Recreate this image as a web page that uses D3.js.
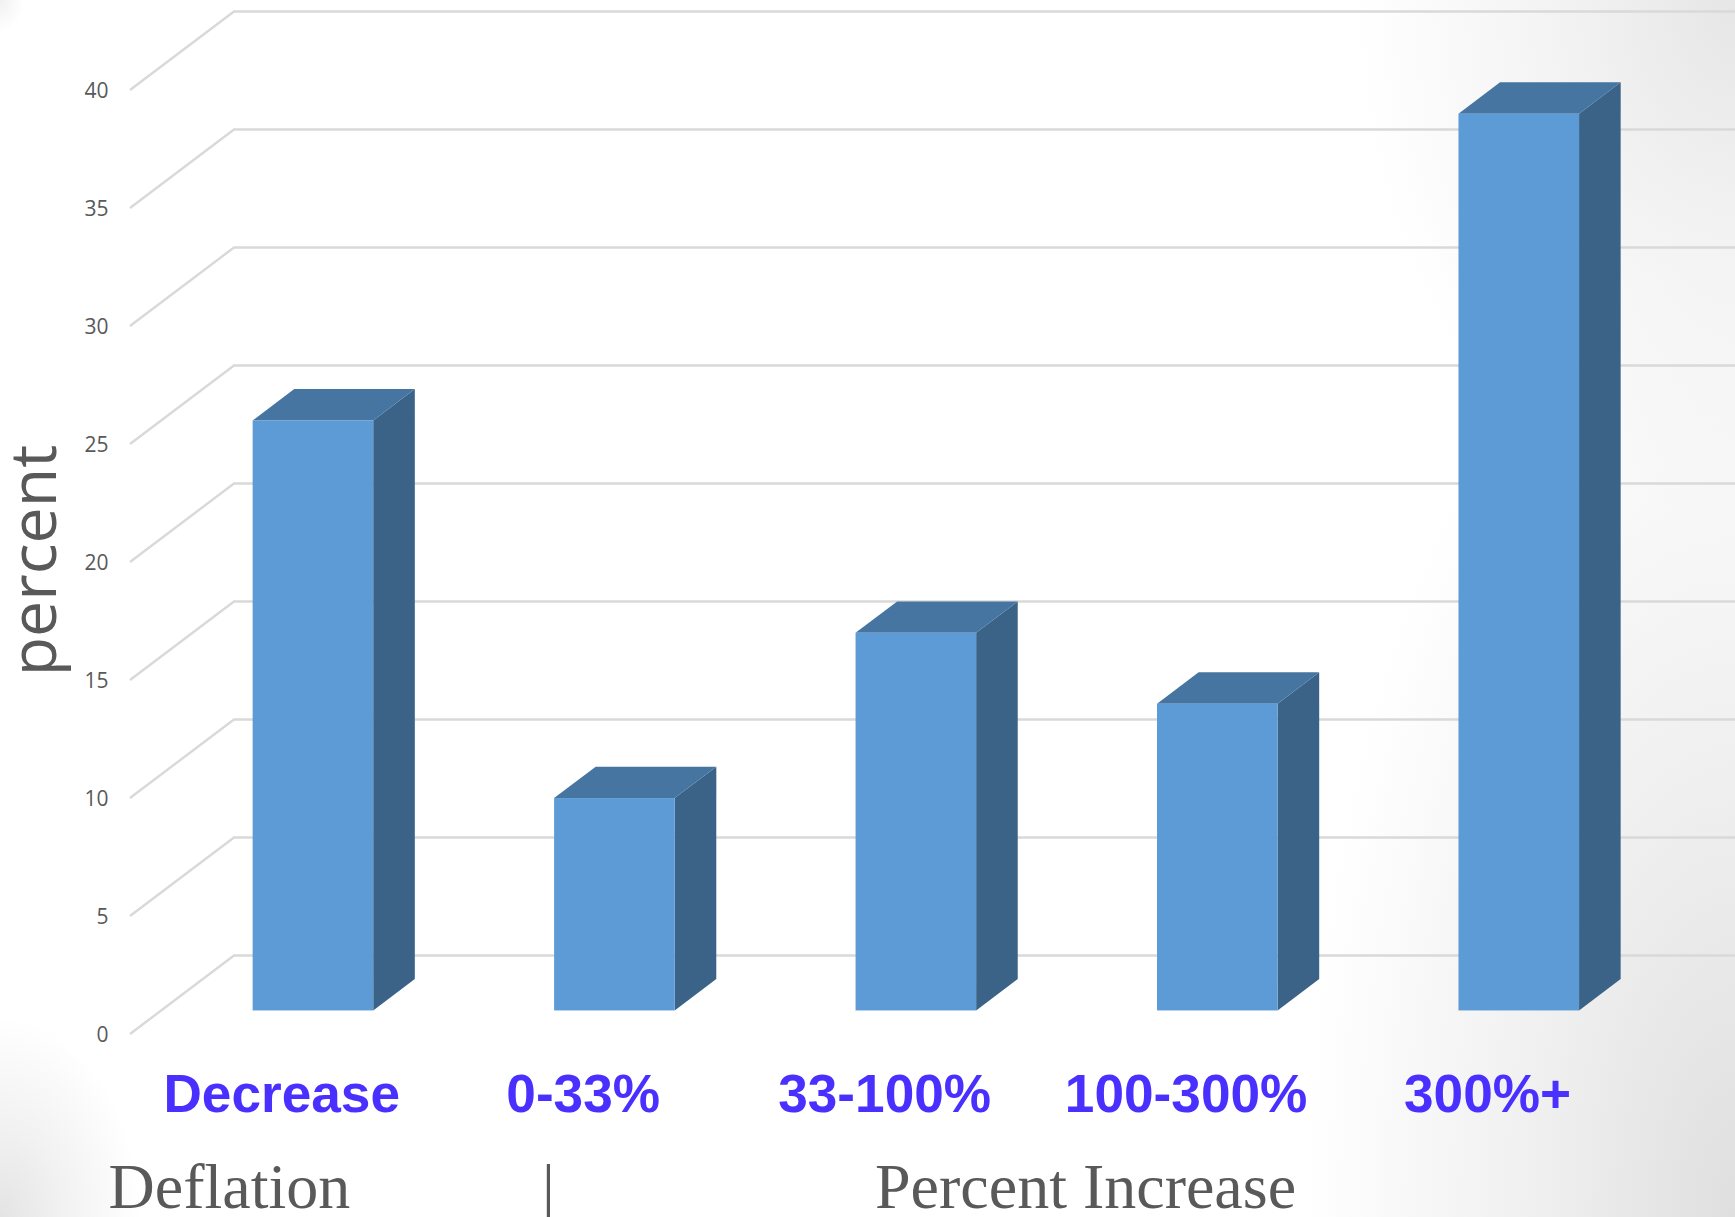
<!DOCTYPE html>
<html>
<head>
<meta charset="utf-8">
<script src="https://cdn.jsdelivr.net/npm/d3@7"></script>
<style>
  html, body { margin: 0; padding: 0; background: #fff; overflow: hidden; }
  svg { display: block; }
</style>
</head>
<body>
<svg id="chart" width="1735" height="1217"></svg>
<script>
const categories = ["Decrease", "0-33%", "33-100%", "100-300%", "300%+"];
const percentValues = [25, 9, 16, 13, 38];
const yTicks = [0, 5, 10, 15, 20, 25, 30, 35, 40];

const W = 1735, H = 1217;

// Oblique projection: the chart floor recedes up and to the right.
const floorDepth = { dx: 104, dy: -78.5 };
const barInset = 0.3, barDepth = 0.4;

const svg = d3.select("#chart");
const defs = svg.append("defs");

// Slide background: white with soft grey shading in the corners.
svg.append("rect").attr("width", W).attr("height", H).attr("fill", "#ffffff");
const vignettes = [
  { id: "vigTR", cx: 1735, cy: 0,    rx: 380, ry: 520, color: "#e6e6e6" },
  { id: "vigBR", cx: 1735, cy: 1217, rx: 430, ry: 960, color: "#dfdfdf" },
  { id: "vigBL", cx: 0,    cy: 1217, rx: 140, ry: 200, color: "#e4e4e4" },
  { id: "vigTL", cx: 0,    cy: 0,    rx: 24,  ry: 32,  color: "#f0f0f0" }
];
vignettes.forEach(v => {
  const g = defs.append("radialGradient").attr("id", v.id);
  g.append("stop").attr("offset", 0).attr("stop-color", v.color).attr("stop-opacity", 1);
  g.append("stop").attr("offset", 0.45).attr("stop-color", v.color).attr("stop-opacity", 0.5);
  g.append("stop").attr("offset", 1).attr("stop-color", v.color).attr("stop-opacity", 0);
  svg.append("rect")
    .attr("x", v.cx - v.rx).attr("y", v.cy - v.ry)
    .attr("width", 2 * v.rx).attr("height", 2 * v.ry)
    .attr("fill", `url(#${v.id})`);
});

const y = d3.scaleLinear().domain([0, 40]).range([1034, 90]);
const x = d3.scaleBand().domain(categories)
  .range([162.2, 1669.5]).paddingInner(0.6).paddingOuter(0.3);

const frontX = 130;

// Gridlines: one diagonal on the side wall and one run along the back wall per tick.
const grid = svg.append("g").attr("fill", "none").attr("stroke", "#d9d9d9").attr("stroke-width", 2.4);
grid.selectAll("path").data(yTicks).join("path")
  .attr("d", d => {
    const p = d3.path();
    p.moveTo(frontX, y(d));
    p.lineTo(frontX + floorDepth.dx, y(d) + floorDepth.dy);
    p.lineTo(W, y(d) + floorDepth.dy);
    return p.toString();
  });

// Value axis labels.
const yAxis = d3.axisLeft(y).tickValues(yTicks).tickSize(0).tickPadding(0);
svg.append("g").attr("transform", "translate(108.5,0.6)").call(yAxis)
  .call(g => g.select(".domain").remove())
  .call(g => g.selectAll("text")
    .attr("font-family", "'Open Sans'")
    .attr("font-size", 21)
    .attr("fill", "#595959"));

// Box columns: front face, top and right side.
const bars = svg.append("g").selectAll("g")
  .data(categories.map((c, i) => ({ c, v: percentValues[i] })))
  .join("g");

const ox = floorDepth.dx * barInset, oy = floorDepth.dy * barInset;
const ddx = floorDepth.dx * barDepth, ddy = floorDepth.dy * barDepth;
const poly = pts => d3.line()(pts) + "Z";

bars.append("path").attr("fill", "#3a6387").attr("d", d => {
  const r = x(d.c) + x.bandwidth(), t = y(d.v) + oy, b = y(0) + oy;
  return poly([[r, t], [r + ddx, t + ddy], [r + ddx, b + ddy], [r, b]]);
});
bars.append("path").attr("fill", "#4675a1").attr("d", d => {
  const l = x(d.c), r = l + x.bandwidth(), t = y(d.v) + oy;
  return poly([[l, t], [l + ddx, t + ddy], [r + ddx, t + ddy], [r, t]]);
});
bars.append("rect").attr("fill", "#5d9bd7")
  .attr("x", d => x(d.c))
  .attr("y", d => y(d.v) + oy)
  .attr("width", x.bandwidth())
  .attr("height", d => y(0) - y(d.v));

// Category labels sit under the front edge of the floor.
const xAxis = d3.axisBottom(x).tickSize(0).tickPadding(0);
svg.append("g").attr("transform", `translate(${-ox},1112)`).call(xAxis)
  .call(g => g.select(".domain").remove())
  .call(g => g.selectAll("text")
    .attr("dy", 0).attr("y", 0)
    .attr("font-family", "'Liberation Sans'")
    .attr("font-weight", "bold")
    .attr("font-size", 53.2)
    .attr("fill", "#4a30ff"));

// Axis title and the captions grouping the categories.
svg.append("text")
  .attr("transform", "translate(56,560.5) rotate(-90)")
  .attr("text-anchor", "middle")
  .attr("font-family", "'Open Sans'")
  .attr("font-size", 64.5)
  .attr("fill", "#595959")
  .text("percent");

const captions = [
  { t: "Deflation", x: 108.5, a: "start" },
  { t: "|", x: 548.5, a: "middle" },
  { t: "Percent Increase", x: 875, a: "start" }
];
svg.append("g").selectAll("text").data(captions).join("text")
  .attr("x", d => d.x).attr("y", 1208)
  .attr("text-anchor", d => d.a)
  .attr("font-family", "'Liberation Serif'")
  .attr("font-size", 64)
  .attr("fill", "#595959")
  .text(d => d.t);
</script>
</body>
</html>
